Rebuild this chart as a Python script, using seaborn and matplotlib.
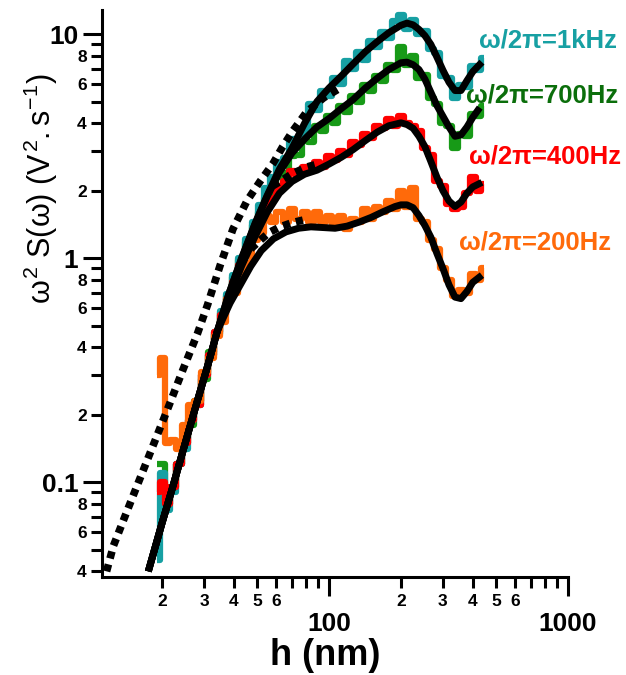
import numpy as np
import pandas as pd
import matplotlib
matplotlib.use("Agg")
import matplotlib.pyplot as plt
import seaborn as sns
from matplotlib import font_manager
from matplotlib.ticker import FixedLocator, FuncFormatter

# ---------------- data ----------------
h = [19, 20, 21, 22, 23.5, 25, 26.5, 28, 30, 32, 34, 36, 38, 40.5, 43, 46, 49, 52, 55, 58.5,
     62, 66, 70, 74.5, 79, 84, 89, 94.5, 100, 106, 112.5, 119, 126, 134, 142, 150, 159, 168, 178, 189,
     200, 212, 225, 238, 252, 267, 283, 300, 318, 337, 357, 378, 400, 424, 445]

s_1k = [0.045, 0.11, 0.075, 0.09, 0.12, 0.14, 0.19, 0.22, 0.30, 0.37,
        0.47, 0.58, 0.69, 0.84, 1.0, 1.22, 1.45, 1.72, 2.05, 2.3,
        2.7, 2.8, 3.4, 3.3, 3.7, 4.9, 4.6, 5.6, 5.3, 6.4,
        6.0, 7.6, 7.0, 8.3, 7.7, 9.3, 8.8, 10.2, 9.6, 11.5,
        12.2, 10.5, 11.6, 10.0, 10.3, 8.6, 8.2, 6.5, 6.4, 5.2,
        5.9, 5.8, 7.2, 6.9, 7.8]
s_700 = [0.12, 0.12, 0.08, 0.095, 0.12, 0.15, 0.18, 0.23, 0.29, 0.38,
         0.46, 0.57, 0.68, 0.82, 0.98, 1.18, 1.4, 1.6, 1.85, 2.05,
         2.3, 2.4, 2.85, 2.9, 3.35, 3.3, 3.9, 3.7, 4.3, 4.0,
         4.8, 4.5, 5.3, 5.0, 5.9, 5.6, 6.5, 6.2, 7.3, 6.9,
         8.8, 7.3, 8.0, 6.4, 6.6, 5.2, 4.9, 4.0, 3.9, 3.1,
         3.6, 3.5, 4.4, 4.3, 4.8]
s_400 = [0.09, 0.10, 0.08, 0.095, 0.12, 0.15, 0.19, 0.22, 0.30, 0.37,
         0.47, 0.56, 0.66, 0.78, 0.93, 1.1, 1.3, 1.45, 1.7, 1.85,
         2.1, 2.2, 2.45, 2.35, 2.55, 2.45, 2.7, 2.55, 2.85, 2.75,
         3.0, 2.9, 3.3, 3.2, 3.6, 3.45, 3.9, 3.8, 4.2, 3.9,
         4.3, 4.0, 3.9, 3.7, 3.1, 2.9, 2.2, 2.1, 1.75, 1.65,
         1.7, 1.95, 2.3, 2.0, 2.15]
s_200 = [0.30, 0.36, 0.15, 0.155, 0.14, 0.18, 0.22, 0.23, 0.31, 0.36,
         0.45, 0.52, 0.66, 0.70, 0.85, 0.95, 1.2, 1.3, 1.55, 1.45,
         1.6, 1.45, 1.65, 1.5, 1.6, 1.45, 1.6, 1.45, 1.55, 1.4,
         1.55, 1.35, 1.5, 1.45, 1.65, 1.5, 1.7, 1.6, 1.8, 1.65,
         2.0, 1.7, 2.05, 1.5, 1.45, 1.2, 1.1, 0.9, 0.8, 0.68,
         0.72, 0.7, 0.85, 0.8, 0.9]

# smooth fits (read knots)
fit_1k_h = [17.5, 20, 22, 25, 28, 31, 34, 38, 43, 49, 55, 62, 70, 79, 89, 100, 112.5, 126, 142, 159,
            178, 200, 212, 225, 238, 252, 267, 283, 300, 318, 337, 357, 378, 400, 437]
fit_1k_y = [0.04, 0.066, 0.093, 0.15, 0.228, 0.33, 0.47, 0.69, 1.0, 1.43, 1.9, 2.5, 3.1, 4.0, 5.0, 5.75,
            6.5, 7.35, 8.35, 9.25, 10.15, 10.95, 11.2, 11.0, 10.5, 9.85, 9.0, 7.9, 6.9, 6.1, 5.6, 5.6,
            6.2, 6.8, 7.5]
fit_700_h = [17.5, 20, 22, 25, 28, 31, 34, 38, 43, 49, 55, 62, 70, 79, 89, 100, 112.5, 126, 142, 159,
             178, 200, 212, 225, 238, 252, 267, 283, 300, 318, 337, 357, 378, 400, 428]
fit_700_y = [0.04, 0.066, 0.093, 0.15, 0.228, 0.33, 0.47, 0.69, 0.99, 1.42, 1.88, 2.42, 2.95, 3.4, 3.85,
             4.2, 4.65, 5.1, 5.75, 6.35, 6.95, 7.45, 7.5, 7.3, 6.95, 6.3, 5.5, 4.8, 4.3, 3.85, 3.5, 3.55,
             3.85, 4.25, 4.7]
fit_400_h = [17.5, 20, 22, 25, 28, 31, 34, 36, 38, 43, 49, 55, 62, 70, 79, 89, 100, 112.5, 126, 142,
             159, 178, 200, 212, 225, 238, 252, 267, 283, 300, 318, 337, 357, 378, 400, 437]
fit_400_y = [0.04, 0.066, 0.093, 0.15, 0.228, 0.33, 0.47, 0.56, 0.66, 0.92, 1.25, 1.6, 1.95, 2.2, 2.37,
             2.47, 2.63, 2.82, 3.05, 3.35, 3.65, 3.9, 4.02, 3.95, 3.8, 3.5, 3.15, 2.7, 2.3, 2.0, 1.8,
             1.7, 1.78, 1.95, 2.08, 2.18]
fit_200_h = [17.5, 20, 22, 25, 28, 31, 34, 36, 38.5, 42.5, 47, 52, 58.5, 66, 74.5, 84, 94.5, 106, 119,
             134, 150, 168, 189, 200, 212, 225, 238, 252, 267, 283, 300, 318, 337, 357, 378, 400, 437]
fit_200_y = [0.04, 0.066, 0.093, 0.15, 0.228, 0.33, 0.47, 0.54, 0.63, 0.76, 0.92, 1.08, 1.22, 1.31, 1.36,
             1.38, 1.37, 1.36, 1.39, 1.45, 1.52, 1.61, 1.7, 1.73, 1.73, 1.68, 1.55, 1.4, 1.24, 1.05,
             0.9, 0.76, 0.67, 0.66, 0.71, 0.78, 0.84]

# dashed fits
dash_main_h = [11.7, 12.5, 14.3, 17.3, 21, 24.5, 28.1, 31, 35, 39.6, 45.3, 51.4, 58.3, 64, 70.5, 80.6, 95, 113]
dash_main_y = [0.04, 0.052, 0.075, 0.125, 0.21, 0.32, 0.46, 0.62, 0.93, 1.35, 1.8, 2.2, 2.65, 3.15, 3.7,
               4.5, 5.2, 5.8]
dash_200_h = [47, 51.4, 56, 62.4, 70, 78]
dash_200_y = [1.1, 1.2, 1.3, 1.38, 1.44, 1.48]
dash_400_h = [58, 62.4, 70, 80.6, 88]
dash_400_y = [2.1, 2.2, 2.38, 2.55, 2.62]

labels = ["ω/2π=1kHz", "ω/2π=700Hz", "ω/2π=400Hz", "ω/2π=200Hz"]
label_h = [425, 374, 385, 351]
label_y = [9.4, 5.34, 2.83, 1.18]

# ---------------- style ----------------
sns.set_style("ticks")
plt.rcParams["font.family"] = ["Liberation Sans", "DejaVu Sans"]
for k in ["text.color", "axes.labelcolor", "xtick.color", "ytick.color", "axes.edgecolor"]:
    plt.rcParams[k] = "black"
avail = {f.name for f in font_manager.fontManager.ttflist}
ylab_font = "Liberation Sans Narrow" if "Liberation Sans Narrow" in avail else "Liberation Sans"
ylab_size = 27 if ylab_font == "Liberation Sans Narrow" else 22
plt.rcParams["mathtext.fontset"] = "custom"
plt.rcParams["mathtext.rm"] = ylab_font
plt.rcParams["mathtext.it"] = ylab_font
plt.rcParams["mathtext.bf"] = ylab_font + ":bold"
plt.rcParams["mathtext.sf"] = ylab_font
plt.rcParams["lines.solid_capstyle"] = "butt"
plt.rcParams["lines.dash_capstyle"] = "butt"

col_1k = "#17A0A3"
col_700 = "#179A17"
col_400 = "#FF0000"
col_200 = "#FF6A0A"
txt_cols = ["#17A0A3", "#0B6E0B", "#FF0000", "#FF6A0A"]

fig = plt.figure(figsize=(6.26, 6.75), dpi=100)
ax = fig.add_axes([0.163, 0.145, 0.744, 0.840])

def df(x, y):
    return pd.DataFrame({"h": x, "y": y})

for ser, c in [(s_700, col_700), (s_1k, col_1k), (s_400, col_400), (s_200, col_200)]:
    sns.lineplot(data=df(h, ser), x="h", y="y", ax=ax, color=c, lw=4.5,
                 drawstyle="steps-mid", sort=False, estimator=None, legend=False)

for fx, fy in [(fit_1k_h, fit_1k_y), (fit_700_h, fit_700_y), (fit_400_h, fit_400_y), (fit_200_h, fit_200_y)]:
    sns.lineplot(data=df(fx, fy), x="h", y="y", ax=ax, color="black", lw=5.0,
                 sort=False, estimator=None, legend=False, solid_capstyle="butt")

for dx, dy in [(dash_main_h, dash_main_y), (dash_200_h, dash_200_y), (dash_400_h, dash_400_y)]:
    sns.lineplot(data=df(dx, dy), x="h", y="y", ax=ax, color="black", lw=5.5,
                 linestyle=(0, (0.95, 0.8)), sort=False, estimator=None, legend=False)

ax.set_xscale("log")
ax.set_yscale("log")
ax.set_xlim(11.2, 1000)
ax.set_ylim(0.0377, 12.8)

for s in ["top", "right"]:
    ax.spines[s].set_visible(False)
for s in ["left", "bottom"]:
    ax.spines[s].set_linewidth(2.2)
    ax.spines[s].set_color("black")

# ticks
ax.xaxis.set_major_locator(FixedLocator([100, 1000]))
ax.xaxis.set_minor_locator(FixedLocator([20, 30, 40, 50, 60, 70, 80, 90,
                                          200, 300, 400, 500, 600, 700, 800, 900]))
ax.yaxis.set_major_locator(FixedLocator([0.1, 1, 10]))
ax.yaxis.set_minor_locator(FixedLocator([0.04, 0.05, 0.06, 0.07, 0.08, 0.09,
                                          0.2, 0.3, 0.4, 0.5, 0.6, 0.7, 0.8, 0.9,
                                          2, 3, 4, 5, 6, 7, 8, 9]))

def major_fmt(v, pos):
    return "%g" % v

def mant(v):
    e = np.floor(np.log10(v) + 1e-9)
    return int(round(v / 10 ** e))

def xminor_fmt(v, pos):
    m = mant(v)
    return str(m) if m in (2, 3, 4, 5, 6) else ""

def yminor_fmt(v, pos):
    m = mant(v)
    return str(m) if m in (2, 4, 6, 8) else ""

ax.xaxis.set_major_formatter(FuncFormatter(major_fmt))
ax.yaxis.set_major_formatter(FuncFormatter(major_fmt))
ax.xaxis.set_minor_formatter(FuncFormatter(xminor_fmt))
ax.yaxis.set_minor_formatter(FuncFormatter(yminor_fmt))

ax.tick_params(axis="both", which="major", length=14, width=2.2, labelsize=19, direction="out",
               colors="black")
ax.tick_params(axis="both", which="minor", length=8, width=2.2, labelsize=12.5, direction="out",
               colors="black")
ax.tick_params(axis="x", which="major", pad=11)
ax.tick_params(axis="x", which="minor", pad=4)
ax.tick_params(axis="y", which="major", pad=3)
ax.tick_params(axis="y", which="minor", pad=3)
for lab in (ax.get_xticklabels() + ax.get_yticklabels() +
            ax.get_xticklabels(minor=True) + ax.get_yticklabels(minor=True)):
    lab.set_fontweight("bold")

ax.set_xlabel("h (nm)", fontsize=26, fontweight="bold", color="black")
ax.xaxis.set_label_coords(0.479, -0.108)
ax.set_ylabel(r"$\omega^{2}\ S(\omega)\ (V^{2}.s^{-1})$", fontsize=ylab_size, color="black")
ax.yaxis.set_label_coords(-0.09, 0.685)

for t, x, y, c in zip(labels, label_h, label_y, txt_cols):
    ax.text(x, y, t, color=c, fontsize=18.5, fontweight="bold", ha="left", va="center")

fig.savefig("out.png", dpi=100)
